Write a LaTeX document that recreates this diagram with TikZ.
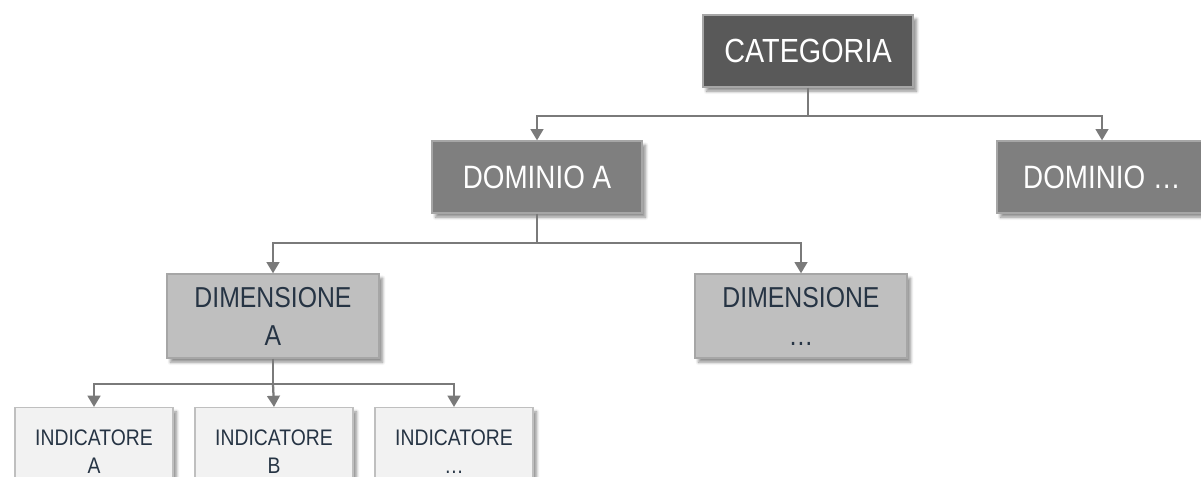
\documentclass[tikz,border=0pt]{standalone}
\usepackage{fontspec}
\setmainfont{Liberation Sans}[FakeStretch=0.86]
\usetikzlibrary{arrows.meta, positioning, shadows.blur}
\definecolor{catcol}{HTML}{595959}
\definecolor{domcol}{HTML}{7F7F7F}
\definecolor{dimcol}{HTML}{BFBFBF}
\definecolor{indcol}{HTML}{F2F2F2}
\definecolor{edgecol}{HTML}{A6A6A6}
\definecolor{linecol}{HTML}{7A7A7A}
\definecolor{txtcol}{HTML}{263444}
\tikzset{
  shd/.style={blur shadow={shadow xshift=2.5pt, shadow yshift=-3pt, shadow opacity=45, shadow blur steps=6}},
  cnode/.style={rectangle, draw=edgecol, line width=0.9pt, fill=catcol, shd, minimum width=5.25cm, minimum height=1.8cm, text=white, font=\fontsize{23.8}{27}\selectfont},
  dnode/.style={rectangle, draw=edgecol, line width=0.9pt, fill=domcol, shd, minimum width=5.25cm, minimum height=1.8cm, text=white, font=\fontsize{23}{27}\selectfont},
  dimnode/.style={rectangle, draw=edgecol, line width=0.9pt, fill=dimcol, shd, minimum width=5.3cm, minimum height=2.1cm, text=txtcol, align=center, font=\fontsize{20.5}{27}\selectfont},
  inode/.style={rectangle, draw=dimcol, line width=0.9pt, fill=indcol, shd, minimum width=3.95cm, minimum height=2.2cm, text=txtcol, align=center, anchor=north, font=\fontsize{16}{20.6}\selectfont},
  conn/.style={draw=linecol, line width=1.6pt, -{Triangle[width=9pt,length=8pt]}},
}
\begin{document}
\begin{tikzpicture}[x=0.025cm, y=-0.025cm]
  \clip (0,0) rectangle (1201,477);
  % ── top level ────────────────────────────────────────────────────
  \node[cnode] (cat) at (808, 51) {CATEGORIA};
  % ── domini ───────────────────────────────────────────────────────
  \node[dnode] (domA) at ( 537,177) {DOMINIO A};
  \node[dnode] (domX) at (1102,177) {DOMINIO \dots};
  % ── dimensioni ───────────────────────────────────────────────────
  \node[dimnode] (dimA) at (273,316) {DIMENSIONE\\A};
  \node[dimnode] (dimX) at (801,316) {DIMENSIONE\\\dots};
  % ── indicatori (cut at the bottom edge) ──────────────────────────
  \node[inode] (indA) at ( 94,407) {INDICATORE\\A};
  \node[inode] (indB) at (274,407) {INDICATORE\\B};
  \node[inode] (indX) at (454,407) {INDICATORE\\\dots};
  % ── junction points ──────────────────────────────────────────────
  \coordinate (catj)  at (808,116);
  \coordinate (domAj) at (537,243);
  \coordinate (dimAj) at (273,384);
  % ── connectors ───────────────────────────────────────────────────
  \draw[conn] (cat.south) -- (catj) -| (domA.north);
  \draw[conn] (catj) -| (domX.north);
  \draw[conn] (domA.south) -- (domAj) -| (dimA.north);
  \draw[conn] (domAj) -| (dimX.north);
  \draw[conn] (dimA.south) -- (dimAj) -| (indA.north);
  \draw[conn] (dimAj) -- (indB.north);
  \draw[conn] (dimAj) -| (indX.north);
\end{tikzpicture}
\end{document}
